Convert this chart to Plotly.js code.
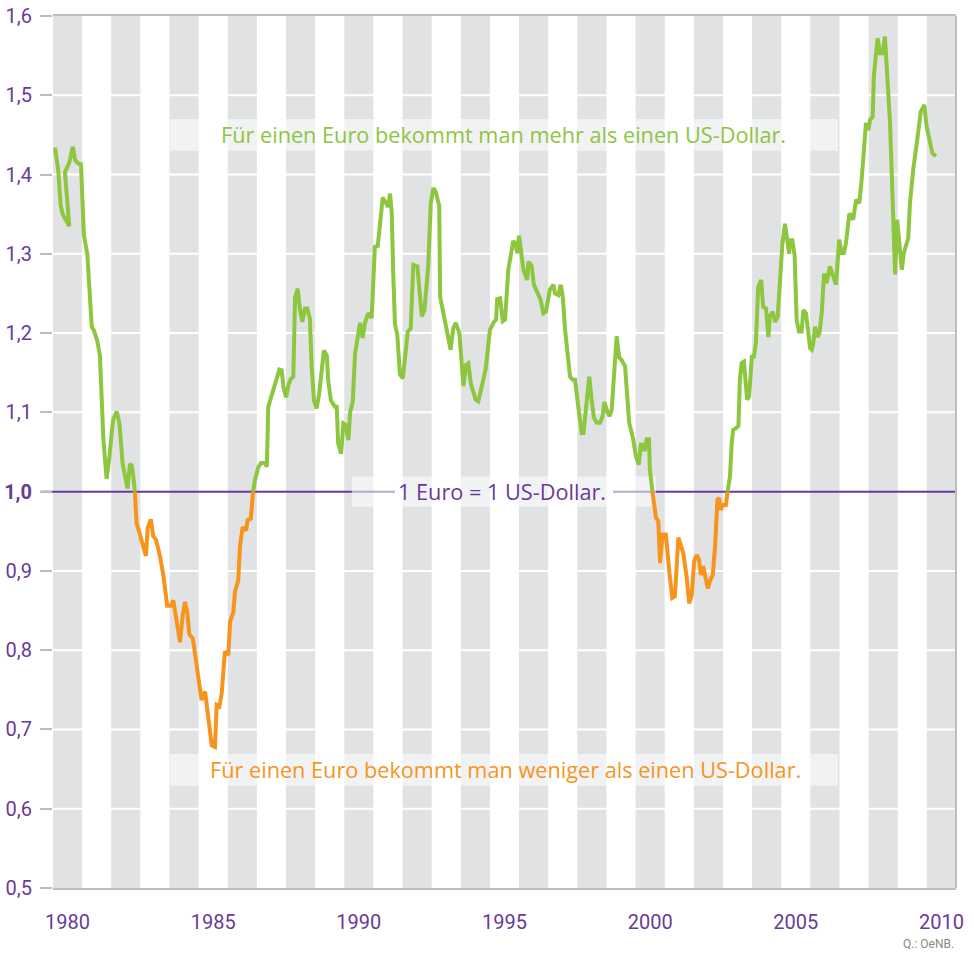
<!DOCTYPE html>
<html>
<head>
<meta charset="utf-8">
<script src="https://cdn.plot.ly/plotly-3.0.1.min.js"></script>
<style>
  html, body { margin: 0; padding: 0; background: #ffffff; }
  #chart { width: 974px; height: 953px; }
</style>
</head>
<body>
<div id="chart"></div>
<script>
// ---- data ----
const years = [
  1979.57,1979.68,1979.76,1979.83,1980.06,1979.91,1980.06,1980.18,1980.26,1980.37,1980.46,1980.51,1980.56,1980.68,1980.75,1980.83,1980.91,
  1981.02,1981.11,1981.17,1981.23,1981.34,1981.43,1981.52,1981.57,1981.69,1981.78,1981.89,1981.97,
  1982.06,1982.14,1982.20,1982.26,1982.31,1982.37,1982.46,1982.58,1982.69,1982.75,1982.86,1982.94,
  1983.04,1983.17,1983.29,1983.42,1983.54,1983.63,1983.75,1983.86,1983.95,
  1984.03,1984.11,1984.18,1984.30,1984.43,1984.60,1984.72,1984.95,
  1985.06,1985.12,1985.21,1985.29,1985.40,1985.52,1985.58,1985.69,1985.75,1985.86,1985.92,
  1986.01,1986.13,1986.18,1986.29,1986.36,1986.43,1986.55,1986.64,1986.78,1986.84,1986.89,1986.97,
  1987.12,1987.27,1987.35,1987.41,1987.50,1987.58,1987.66,1987.75,1987.81,1987.90,1987.98,
  1988.06,1988.15,1988.23,1988.32,1988.38,1988.46,1988.55,1988.64,1988.72,1988.80,1988.90,1988.95,
  1989.04,1989.18,1989.24,1989.29,1989.39,1989.47,1989.55,1989.64,1989.70,1989.79,1989.87,1989.95,
  1990.04,1990.13,1990.21,1990.32,1990.44,1990.55,1990.65,1990.82,1990.93,
  1991.01,1991.07,1991.13,1991.18,1991.24,1991.32,1991.41,1991.51,1991.58,1991.68,1991.78,1991.87,
  1992.01,1992.08,1992.16,1992.25,1992.38,1992.47,1992.56,1992.65,1992.76,1992.79,1992.90,
  1993.04,1993.15,1993.24,1993.33,1993.45,1993.53,1993.59,1993.68,1993.76,1993.84,1993.93,
  1994.01,1994.10,1994.18,1994.27,1994.35,1994.44,1994.50,1994.62,1994.71,1994.75,1994.85,1994.94,
  1995.02,1995.13,1995.25,1995.30,1995.36,1995.44,1995.50,1995.65,1995.78,1995.82,1995.93,
  1996.01,1996.13,1996.24,1996.33,1996.42,1996.56,1996.68,1996.73,1996.85,1996.93,
  1997.00,1997.08,1997.19,1997.25,1997.34,1997.42,1997.53,1997.65,1997.71,1997.82,1997.91,1997.99,
  1998.07,1998.17,1998.28,1998.37,1998.43,1998.53,1998.60,1998.68,1998.76,1998.85,1998.94,
  1999.02,1999.14,1999.22,1999.28,1999.42,1999.51,1999.61,1999.68,1999.76,1999.81,1999.88,1999.96,1999.99,
  2000.07,2000.13,2000.20,2000.28,2000.34,2000.43,2000.54,2000.66,2000.76,2000.85,2000.97,
  2001.14,2001.25,2001.34,2001.43,2001.51,2001.60,2001.68,2001.74,2001.82,2001.92,2001.98,
  2002.05,2002.15,2002.23,2002.31,2002.37,2002.42,2002.49,2002.60,2002.68,2002.74,2002.80,2002.85,2002.95,
  2003.03,2003.08,2003.14,2003.22,2003.29,2003.33,2003.40,2003.49,2003.56,2003.63,2003.71,2003.81,2003.88,2003.98,
  2004.06,2004.11,2004.21,2004.29,2004.38,2004.46,2004.54,2004.63,2004.71,2004.77,2004.80,2004.88,2004.96,
  2005.03,2005.11,2005.20,2005.26,2005.35,2005.42,2005.49,2005.55,2005.60,2005.66,2005.74,2005.81,2005.89,2005.97,
  2006.06,2006.17,2006.27,2006.38,2006.49,2006.58,2006.65,2006.72,2006.84,2006.97,
  2007.07,2007.18,2007.26,2007.34,2007.41,2007.49,2007.55,2007.64,2007.68,2007.75,2007.81,2007.89,2007.98,
  2008.06,2008.14,2008.23,2008.29,2008.35,2008.41,2008.48,2008.55,2008.64,2008.71,2008.86,2008.92,
  2009.03,2009.17,2009.29,2009.41,2009.49,2009.61,2009.69,2009.81
];
const rates = [
  1.434,1.405,1.362,1.350,1.335,1.403,1.415,1.435,1.418,1.414,1.413,1.354,1.324,1.299,1.253,1.208,1.203,
  1.190,1.172,1.127,1.066,1.016,1.041,1.076,1.091,1.101,1.086,1.035,1.020,
  1.004,1.035,1.033,1.018,1.000,0.960,0.949,0.934,0.919,0.954,0.965,0.944,
  0.939,0.919,0.894,0.856,0.856,0.863,0.838,0.810,0.843,
  0.861,0.848,0.820,0.815,0.777,0.737,0.748,0.680,
  0.678,0.731,0.729,0.745,0.798,0.794,0.836,0.848,0.874,0.888,0.932,
  0.955,0.951,0.964,0.966,0.998,1.014,1.031,1.036,1.036,1.031,1.107,1.117,
  1.132,1.154,1.153,1.132,1.119,1.134,1.142,1.145,1.245,1.256,1.229,
  1.214,1.231,1.231,1.218,1.157,1.115,1.105,1.124,1.149,1.178,1.172,1.140,
  1.115,1.107,1.107,1.061,1.048,1.086,1.084,1.065,1.100,1.113,1.174,1.197,
  1.213,1.194,1.213,1.225,1.219,1.309,1.310,1.371,1.364,
  1.359,1.376,1.351,1.276,1.211,1.198,1.148,1.143,1.171,1.202,1.206,1.286,
  1.284,1.250,1.221,1.229,1.284,1.364,1.383,1.377,1.360,1.246,1.225,
  1.196,1.179,1.206,1.213,1.200,1.156,1.133,1.160,1.162,1.137,1.127,
  1.116,1.114,1.129,1.141,1.154,1.183,1.204,1.213,1.217,1.243,1.244,1.215,
  1.217,1.280,1.309,1.316,1.314,1.301,1.323,1.280,1.267,1.290,1.285,
  1.261,1.251,1.242,1.225,1.227,1.255,1.261,1.250,1.248,1.261,
  1.246,1.204,1.158,1.145,1.141,1.141,1.108,1.074,1.074,1.116,1.145,1.116,
  1.093,1.087,1.087,1.095,1.113,1.101,1.095,1.103,1.141,1.196,1.169,
  1.166,1.158,1.120,1.087,1.066,1.045,1.034,1.059,1.059,1.051,1.066,1.066,1.028,
  1.003,0.982,0.967,0.963,0.910,0.946,0.946,0.898,0.866,0.868,0.942,
  0.922,0.893,0.859,0.870,0.912,0.920,0.914,0.895,0.906,0.889,0.878,
  0.887,0.895,0.931,0.990,0.992,0.977,0.983,0.983,1.006,1.019,1.061,1.078,1.080,
  1.083,1.141,1.162,1.164,1.132,1.116,1.120,1.170,1.170,1.187,1.258,1.267,1.233,1.231,
  1.195,1.221,1.227,1.214,1.221,1.263,1.313,1.338,1.317,1.300,1.317,1.317,1.298,
  1.216,1.202,1.202,1.229,1.225,1.204,1.181,1.179,1.187,1.208,1.195,1.200,1.225,1.275,
  1.263,1.284,1.271,1.261,1.318,1.301,1.301,1.313,1.351,1.343,
  1.368,1.364,1.393,1.427,1.465,1.456,1.469,1.473,1.524,1.551,1.572,1.553,1.553,
  1.574,1.532,1.469,1.406,1.335,1.274,1.343,1.318,1.280,1.301,1.320,1.364,
  1.406,1.444,1.479,1.488,1.461,1.440,1.427,1.423
];
const parity = 1.0;
const xTickYears = [1980, 1985, 1990, 1995, 2000, 2005, 2010];
const yTickValues = [0.5, 0.6, 0.7, 0.8, 0.9, 1.0, 1.1, 1.2, 1.3, 1.4, 1.5, 1.6];
const yTickLabels = ["0,5","0,6","0,7","0,8","0,9","<b>1,0</b>","1,1","1,2","1,3","1,4","1,5","1,6"];
const bandYears = [1980,1982,1984,1986,1988,1990,1992,1994,1996,1998,2000,2002,2004,2006,2008,2010];
const textAbove = "Für einen Euro bekommt man mehr als einen US-Dollar.";
const textBelow = "Für einen Euro bekommt man weniger als einen US-Dollar.";
const textParity = "1 Euro = 1 US-Dollar.";
const sourceText = "Q.: OeNB.";

// ---- colours / styles ----
const GREEN = "#8dc63f";
const ORANGE = "#f7941d";
const PURPLE = "#6a3a9a";
const BAND = "#e1e2e4";
const FRAME = "#bdbdbd";
const FONT = "Roboto, 'Open Sans', sans-serif";
const NOTE_FONT = "'Open Sans', Roboto, sans-serif";

// split the series into parts above / below parity (colour change at 1,0)
function splitAt(xs, ys, thr) {
  const up = {x: [], y: []}, dn = {x: [], y: []};
  let cur = ys[0] >= thr ? up : dn;
  cur.x.push(xs[0]); cur.y.push(ys[0]);
  for (let i = 1; i < xs.length; i++) {
    const prevSide = ys[i - 1] >= thr, side = ys[i] >= thr;
    if (side === prevSide) { cur.x.push(xs[i]); cur.y.push(ys[i]); continue; }
    const t = (thr - ys[i - 1]) / (ys[i] - ys[i - 1]);
    const xc = xs[i - 1] + t * (xs[i] - xs[i - 1]);
    cur.x.push(xc); cur.y.push(thr); cur.x.push(null); cur.y.push(null);
    cur = side ? up : dn;
    cur.x.push(xc); cur.y.push(thr); cur.x.push(xs[i]); cur.y.push(ys[i]);
  }
  return {up, dn};
}
const parts = splitAt(years, rates, parity);

const traces = [
  {x: parts.up.x, y: parts.up.y, type: "scatter", mode: "lines", connectgaps: false,
   line: {color: GREEN, width: 4}, hoverinfo: "skip", showlegend: false},
  {x: parts.dn.x, y: parts.dn.y, type: "scatter", mode: "lines", connectgaps: false,
   line: {color: ORANGE, width: 4}, hoverinfo: "skip", showlegend: false}
];

const shapes = [];
// alternating year bands
bandYears.forEach(yr => shapes.push({
  type: "rect", xref: "x", yref: "paper", x0: yr - 0.5, x1: yr + 0.5, y0: 0, y1: 1,
  fillcolor: BAND, line: {width: 0}, layer: "below"
}));
// white horizontal grid lines (the parity value gets the purple line instead)
yTickValues.filter(v => v !== parity && v > 0.5 && v < 1.6).forEach(v => shapes.push({
  type: "line", xref: "paper", yref: "y", x0: 0, x1: 1, y0: v, y1: v,
  line: {color: "#ffffff", width: 2}, layer: "below"
}));
// light boxes behind the texts
const boxFill = "rgba(255,255,255,0.55)";
shapes.push({type: "rect", xref: "x", yref: "y", x0: 1983.52, x1: 2006.45, y0: 1.430, y1: 1.470,
  fillcolor: boxFill, line: {width: 0}, layer: "below"});
shapes.push({type: "rect", xref: "x", yref: "y", x0: 1983.52, x1: 2006.45, y0: 0.629, y1: 0.669,
  fillcolor: boxFill, line: {width: 0}, layer: "below"});
shapes.push({type: "rect", xref: "x", yref: "y", x0: 1989.76, x1: 2000.20, y0: 0.981, y1: 1.019,
  fillcolor: boxFill, line: {width: 0}, layer: "below"});
// parity line, interrupted by its label
shapes.push({type: "line", xref: "paper", yref: "y", x0: -0.0133, x1: 0.3787, y0: parity, y1: parity,
  line: {color: PURPLE, width: 2}, layer: "below"});
shapes.push({type: "line", xref: "paper", yref: "y", x0: 0.6202, x1: 1, y0: parity, y1: parity,
  line: {color: PURPLE, width: 2}, layer: "below"});
// right frame line
shapes.push({type: "line", xref: "paper", yref: "paper", x0: 1, x1: 1, y0: 0, y1: 1,
  line: {color: FRAME, width: 2}, layer: "above"});

const annotations = [
  {text: textAbove, xref: "x", yref: "y", x: 1994.97, y: 1.450, showarrow: false,
   font: {family: NOTE_FONT, size: 21.7, color: GREEN}, xanchor: "center", yanchor: "middle"},
  {text: textBelow, xref: "x", yref: "y", x: 1995.02, y: 0.649, showarrow: false,
   font: {family: NOTE_FONT, size: 21.7, color: ORANGE}, xanchor: "center", yanchor: "middle"},
  {text: textParity, xref: "x", yref: "y", x: 1994.93, y: parity, showarrow: false,
   font: {family: NOTE_FONT, size: 21.7, color: PURPLE}, xanchor: "center", yanchor: "middle"},
  {text: sourceText, xref: "paper", yref: "paper", x: 1.0, y: -0.0645, showarrow: false,
   font: {family: FONT, size: 12, color: "#8a8a8a"}, xanchor: "right", yanchor: "middle"}
];

const layout = {
  width: 974, height: 953,
  margin: {l: 53, r: 18, t: 16, b: 65},
  paper_bgcolor: "#ffffff", plot_bgcolor: "#ffffff",
  separators: ",.",
  showlegend: false,
  font: {family: FONT, color: PURPLE},
  xaxis: {
    range: [1979.5, 2010.5], tickmode: "array", tickvals: xTickYears,
    ticktext: xTickYears.map(String),
    showgrid: false, zeroline: false, ticks: "",
    showline: true, mirror: true, linecolor: FRAME, linewidth: 2,
    tickfont: {family: FONT, size: 20, color: PURPLE},
    ticklabelstandoff: 15, fixedrange: true
  },
  yaxis: {
    range: [0.5, 1.6], tickmode: "array", tickvals: yTickValues, ticktext: yTickLabels,
    showgrid: false, zeroline: false, showline: false,
    ticks: "outside", ticklen: 12, tickwidth: 2, tickcolor: FRAME,
    tickfont: {family: FONT, size: 20, color: PURPLE},
    ticklabelstandoff: 4, fixedrange: true
  },
  shapes: shapes,
  annotations: annotations
};

Plotly.newPlot("chart", traces, layout, {staticPlot: true, displayModeBar: false});
</script>
</body>
</html>
